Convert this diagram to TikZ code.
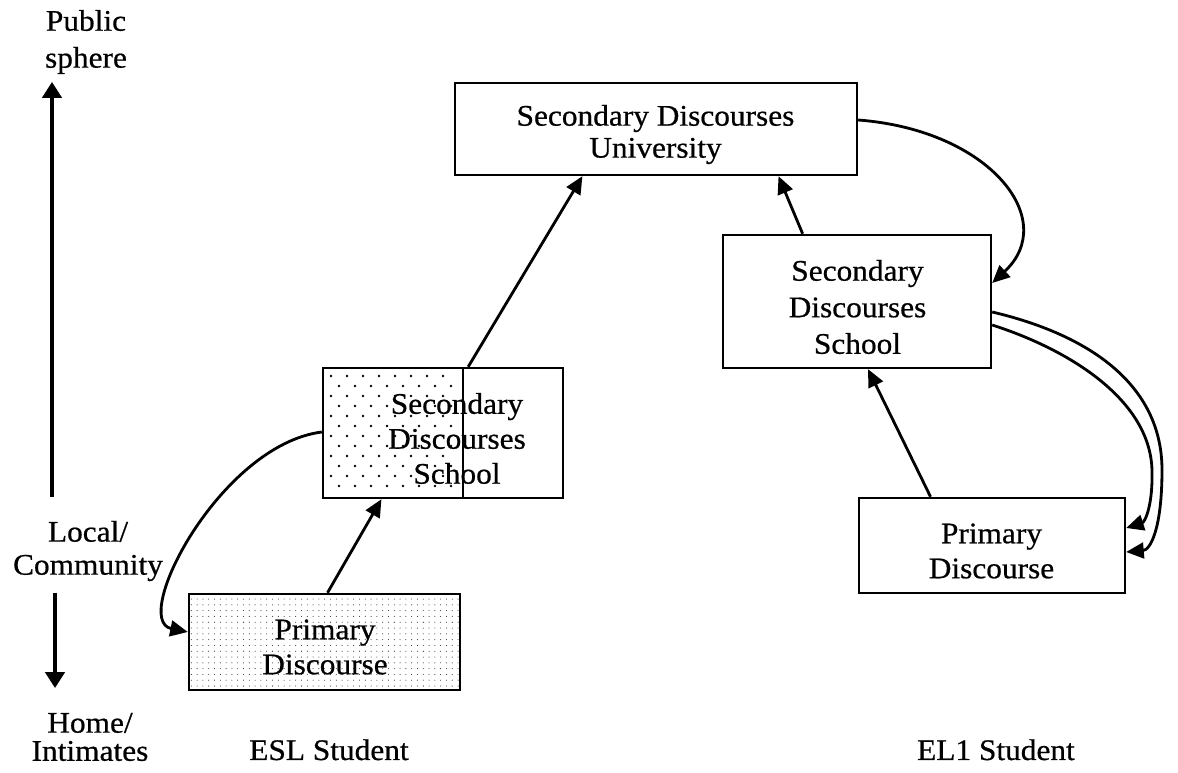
\documentclass[tikz,border=0pt]{standalone}
\usepackage{fontspec}
\setmainfont{Liberation Serif}[FakeStretch=1.05,FakeBold=0.6]
\usetikzlibrary{arrows.meta,patterns.meta,calc}

\begin{document}
\begin{tikzpicture}[x=0.02cm,y=-0.02cm,
  box/.style={draw,line width=1.4pt,inner sep=0pt},
  txt/.style={align=center,inner sep=0pt},
  link/.style={line width=1.6pt,-{Triangle[length=10pt,width=9pt]}},
  axis/.style={line width=1.8pt,-{Triangle[length=9pt,width=11pt]}},
  finedots/.style={pattern={Dots[distance=3.3pt,radius=0.3pt]},pattern color=black!85}]
\useasboundingbox (0,0) rectangle (1178,773);
\fontsize{17}{19}\selectfont

% vertical scale on the left
\coordinate (upS) at (52,497);
\coordinate (upE) at (52,82);
\coordinate (dnS) at (55,593);
\coordinate (dnE) at (55,688);
\node[txt,font=\fontsize{17}{21}\selectfont] (pub) at (86,42) {Public\\sphere};
\node[txt,font=\fontsize{17}{18.8}\selectfont] (loc) at (88,551) {Local/\\Community};
\node[txt,font=\fontsize{17}{16}\selectfont] (home) at (90,737) {Home/\\Intimates};
\draw[axis] (upS) -- (upE);
\draw[axis] (dnS) -- (dnE);

% ESL student
\node[box,finedots,minimum width=5.42cm,minimum height=1.92cm] (primS) at (324.5,642) {};
\node[txt,font=\fontsize{17}{19.9}\selectfont] (primSt) at (325,647) {Primary\\Discourse};
\begin{scope}
  \foreach \r in {0,...,11}{
    \pgfmathsetmacro\xo{mod(\r,2)*8}
    \foreach \c in {0,...,7}{
      \fill (\xo+331+16*\c,376+10*\r) circle[radius=0.85pt];
    }
  }
\end{scope}
\node[box,minimum width=4.8cm,minimum height=2.6cm] (schS) at (443,433) {};
\draw[line width=1.4pt] ($(schS.north west)!0.583!(schS.north east)$) -- ($(schS.south west)!0.583!(schS.south east)$);
\node[txt,font=\fontsize{17}{19.9}\selectfont] (schSt) at (457,438.5) {Secondary\\Discourses\\School};
\node[txt,anchor=base] (esl) at (329,760) {ESL Student};

% university
\node[box,minimum width=8.04cm,minimum height=1.84cm] (uni) at (656,129) {};
\node[txt,font=\fontsize{17}{18.2}\selectfont] (unit) at (655.5,134.5) {Secondary Discourses\\University};

% EL1 student
\node[box,minimum width=5.36cm,minimum height=2.66cm] (schE) at (857,301.5) {};
\node[txt,font=\fontsize{17}{20.8}\selectfont] (schEt) at (857.5,307) {Secondary\\Discourses\\School};
\node[box,minimum width=5.32cm,minimum height=1.9cm] (primE) at (992,545.5) {};
\node[txt,font=\fontsize{17}{19.9}\selectfont] (primEt) at (991.5,551) {Primary\\Discourse};
\node[txt,anchor=base] (el1) at (996,760) {EL1 Student};

% straight links
\draw[link] ($(primS.north)+(3,0)$) -- ($(schS.south west)!0.246!(schS.south east)$);
\draw[link] ($(schS.north west)!0.604!(schS.north east)$) -- ($(uni.south west)!0.318!(uni.south east)$);
\draw[link] ($(schE.north west)!0.299!(schE.north east)$) -- ($(uni.south west)!0.803!(uni.south east)$);
\draw[link] ($(primE.north west)!0.271!(primE.north east)$) -- ($(schE.south west)!0.541!(schE.south east)$);

% curved links
\draw[link] ($(schS.west)+(0,-1)$) .. controls (220,445) and (130,620) .. ($(primS.west)+(0,-10)$);
\draw[link] ($(uni.east)+(0,-9)$) .. controls (990,130) and (1060,220) .. ($(schE.east)+(0,-18.5)$);
\draw[link] ($(schE.east)+(0,10.5)$) .. controls (1090,335) and (1162,385) .. (1162,470)
  .. controls (1162,530) and (1150,550) .. ($(primE.east)+(0,6.5)$);
\draw[link] ($(schE.east)+(0,23.5)$) .. controls (1070,350) and (1150,400) .. (1152,470)
  .. controls (1153,505) and (1145,522) .. ($(primE.east)+(0,-17.5)$);
\end{tikzpicture}
\end{document}
